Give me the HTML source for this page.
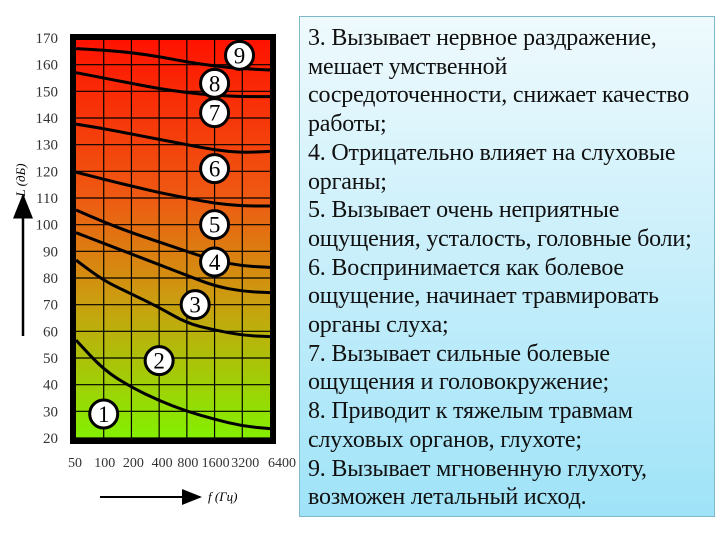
<!DOCTYPE html>
<html><head><meta charset="utf-8"><style>
body{margin:0;width:720px;height:540px;background:#fff;overflow:hidden;position:relative;font-family:"Liberation Serif","DejaVu Serif",serif}
#box{position:absolute;left:299px;top:16px;width:416px;height:501px;border:1px solid #7fb8c8;background:linear-gradient(#effafd,#9fe3f8);box-sizing:border-box;padding:7px 0 0 8px;font-family:"Liberation Serif","DejaVu Serif",serif;font-size:24px;line-height:28.7px;color:#111;white-space:nowrap;letter-spacing:-0.2px}
</style></head><body>
<svg id="chart" width="300" height="540" style="position:absolute;left:0;top:0">
<defs><linearGradient id="bg" x1="0" y1="0" x2="0" y2="1">
<stop offset="0" stop-color="#ff1200"/><stop offset="0.4" stop-color="#ee5a12"/><stop offset="0.65" stop-color="#cc9c10"/><stop offset="1" stop-color="#84f000"/></linearGradient>
<marker id="ah" markerWidth="10" markerHeight="8" refX="9" refY="4" orient="auto"><path d="M0,0L10,4L0,8z" fill="#000"/></marker></defs>
<g id="g"></g>
<line x1="23" y1="336" x2="23" y2="196" stroke="#000" stroke-width="2.5" marker-end="url(#ah)"/>
<text transform="translate(25,180) rotate(-90)" font-size="13" font-style="italic" text-anchor="middle">L (дБ)</text>
<line x1="100" y1="497" x2="200" y2="497" stroke="#000" stroke-width="2" marker-end="url(#ah)"/>
<text x="208" y="501" font-size="13" font-style="italic">f (Гц)</text>
</svg>
<div id="box">3. Вызывает нервное раздражение,<br>мешает умственной<br>сосредоточенности, снижает качество<br>работы;<br>4. Отрицательно влияет на слуховые<br>органы;<br>5. Вызывает очень неприятные<br>ощущения, усталость, головные боли;<br>6. Воспринимается как болевое<br>ощущение, начинает травмировать<br>органы слуха;<br>7. Вызывает сильные болевые<br>ощущения и головокружение;<br>8. Приводит к тяжелым травмам<br>слуховых органов, глухоте;<br>9. Вызывает мгновенную глухоту,<br>возможен летальный исход.</div>
<script>
const freqs=["50","100","200","400","800","1600","3200","6400"];
const yTicks=[20,30,40,50,60,70,80,90,100,110,120,130,140,150,160,170];
const c2=[56.7,45.5,39,34,30,27,24.5,23.5];
const c3=[86.7,79,74,69,63,60.5,58.5,58];
const c4=[97,93,89,85,81,77,75,74.5];
const c5=[105.5,101,97,93.5,90,86.5,84.5,84];
const c6=[119.7,117,114.5,112,110,108,107,107];
const c7=[137.7,136,134,132,130,128,127,127.5];
const c8=[157,155,153,151,149.5,148.5,148,148];
const c9=[166,165.5,164.5,163,161,159.5,158.5,158];
const labelNums=["1","2","3","4","5","6","7","8","9"];
const labelIdx=[1,3,4.3,5,5,5,5,5,5.9];
const labelL=[29,49,70,86,100,121,142,153,163.5];
const NS="http://www.w3.org/2000/svg",g=document.getElementById('g');
const X0=76,X1=270;
const x=i=>X0+(X1-X0)*i/(freqs.length-1);
const y=L=>438-(L-20)*400/150;
const lblShift=[-1,1,2,3,1,1,3,12];
function mk(t,a,p){const e=document.createElementNS(NS,t);for(const k in a)e.setAttribute(k,a[k]);(p||g).appendChild(e);return e;}
let r=mk('rect',{x:X0,y:y(170),width:X1-X0,height:y(20)-y(170),fill:'url(#bg)'});


yTicks.forEach(v=>{let l=mk('line',{x1:X0,x2:X1,y1:y(v),y2:y(v),stroke:'#000','stroke-width':1.2});


let t=mk('text',{x:58,y:y(v)+5,'font-size':15,'text-anchor':'end',fill:'#333'});t.textContent=v;

});
freqs.forEach((f,i)=>{if(i>0&&i<freqs.length-1){let l=mk('line',{x1:x(i),x2:x(i),y1:y(170),y2:y(20),stroke:'#000','stroke-width':1.2});

}
let t=mk('text',{x:x(i)+lblShift[i],y:467,'font-size':14,'text-anchor':'middle',fill:'#333'});t.textContent=f;

});
let fr=mk('rect',{x:X0-3,y:y(170)-1,width:X1-X0+6,height:y(20)-y(170)+4,fill:'none',stroke:'#000','stroke-width':6});


[c2,c3,c4,c5,c6,c7,c8,c9].forEach((c,k)=>{
 const pts=c.map((v,i)=>[x(i),y(v)]);let d='M'+pts[0];
 for(let i=1;i<pts.length;i++){const p0=pts[i-1],p1=pts[i];const m=(p0[0]+p1[0])/2;d+=` Q${p0[0]},${p0[1]} ${m},${(p0[1]+p1[1])/2}`;}
 d+=' L'+pts[pts.length-1];
 let p=mk('path',{d:d,fill:'none',stroke:'#000','stroke-width':3});
 
 });
labelNums.forEach((n,i)=>{const cx=x(labelIdx[i]),cy=y(labelL[i]);
 let ci=mk('circle',{cx:cx,cy:cy,r:14,fill:'#fff',stroke:'#000','stroke-width':3});
 
 
 let t=mk('text',{x:cx,y:cy+8,'font-size':23,'text-anchor':'middle'});t.textContent=n;
 
 });
</script>
</body></html>
